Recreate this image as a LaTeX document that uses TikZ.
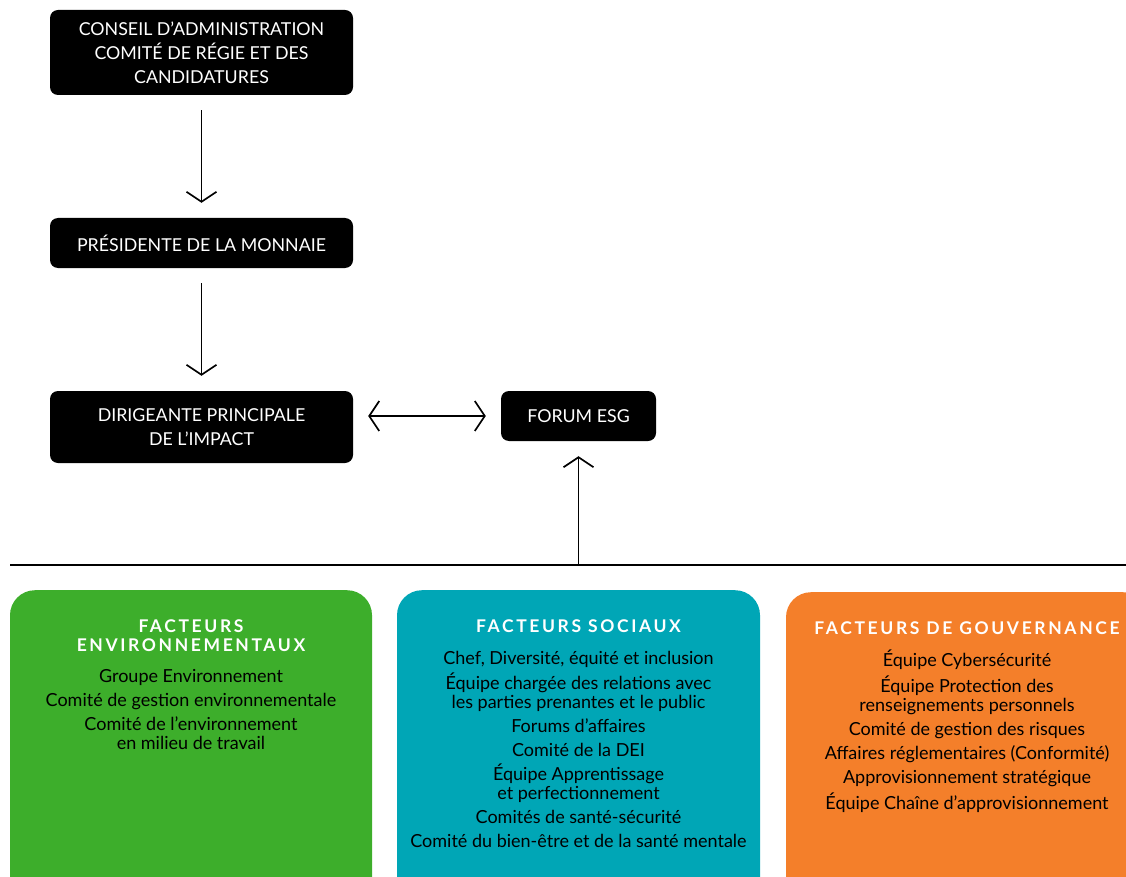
\documentclass[tikz,border=0pt]{standalone}
\usepackage{fontspec}
\setmainfont{Lato}
\usetikzlibrary{arrows.meta,positioning}
\definecolor{envgreen}{HTML}{3DAE2B}
\definecolor{socteal}{HTML}{00A6B6}
\definecolor{govorange}{HTML}{F47F2A}
\tikzset{
  >={Straight Barb[length=10pt,width=30pt]},
  blackbox/.style={fill=black, text=white, rounded corners=8pt, inner sep=0pt, minimum width=303pt, align=center, font=\fontsize{17.8}{24}\selectfont},
  factorbox/.style={rounded corners=25pt, inner sep=0pt, minimum width=362pt, minimum height=320pt, anchor=north},
  factorhead/.style={text=white, inner sep=0pt, align=center, font=\fontsize{17.5}{19}\selectfont\bfseries\addfontfeatures{LetterSpace=15}},
  factorlist/.style={inner sep=0pt, align=center, font=\fontsize{18}{19}\selectfont},
  link/.style={line width=1.7pt, shorten >=15pt, shorten <=15pt},
}
\begin{document}
\begin{tikzpicture}[x=1pt, y=-1pt]
  \clip (0,0) rectangle (1126,877);
  \node[blackbox, minimum height=85pt] (conseil) at (201.5,52.5) {CONSEIL D’ADMINISTRATION\\COMITÉ DE RÉGIE ET DES\\CANDIDATURES};
  \node[blackbox, minimum height=50pt] (presidente) at (201.5,243) {PRÉSIDENTE DE LA MONNAIE};
  \node[blackbox, minimum height=72pt] (dirigeante) at (201.5,427) {DIRIGEANTE PRINCIPALE\\DE L’IMPACT};
  \node[blackbox, minimum width=155pt, minimum height=50pt] (forum) at (578.5,416) {FORUM ESG};
  \coordinate (rulewest) at (10,565);
  \coordinate (ruleeast) at (1126,565);
  \coordinate (split) at (578.5,565);
  \draw[line width=1.8pt] (rulewest) -- (ruleeast);
  \draw[link, ->] (conseil) -- (presidente);
  \draw[link, ->] (presidente) -- (dirigeante);
  \draw[link, <->] (dirigeante.east |- forum) -- (forum);
  \draw[link, ->, shorten <=0pt] (split) -- (forum);

  \node[factorbox, fill=envgreen] (env) at (191,590) {};
  \node[factorbox, fill=socteal, minimum width=363pt] (soc) at (578.5,590) {};
  \node[factorbox, fill=govorange] (gov) at (967,592) {};

  \node[factorhead] (envhead) at (191,636) {FACTEURS\\ENVIRONNEMENTAUX};
  \node[factorhead] (sochead) at (578.5,626) {FACTEURS SOCIAUX};
  \node[factorhead] (govhead) at (967,628) {FACTEURS DE GOUVERNANCE};

  \node[factorlist, below=17pt of envhead] (envlist) {Groupe Environnement\\[5pt]
    Comité de gestion environnementale\\[5pt]
    Comité de l’environnement\\en milieu de travail};
  \node[factorlist, below=18pt of sochead] (soclist) {Chef, Diversité, équité et inclusion\\[5pt]
    Équipe chargée des relations avec\\les parties prenantes et le public\\[5pt]
    Forums d’affaires\\[5pt]
    Comité de la DEI\\[5pt]
    Équipe Apprentissage\\et perfectionnement\\[5pt]
    Comités de santé-sécurité\\[5pt]
    Comité du bien-être et de la santé mentale};
  \node[factorlist, below=15pt of govhead] (govlist) {Équipe Cybersécurité\\[5pt]
    Équipe Protection des\\renseignements personnels\\[5pt]
    Comité de gestion des risques\\[5pt]
    Affaires réglementaires (Conformité)\\[5pt]
    Approvisionnement stratégique\\[5pt]
    Équipe Chaîne d’approvisionnement};
\end{tikzpicture}
\end{document}
